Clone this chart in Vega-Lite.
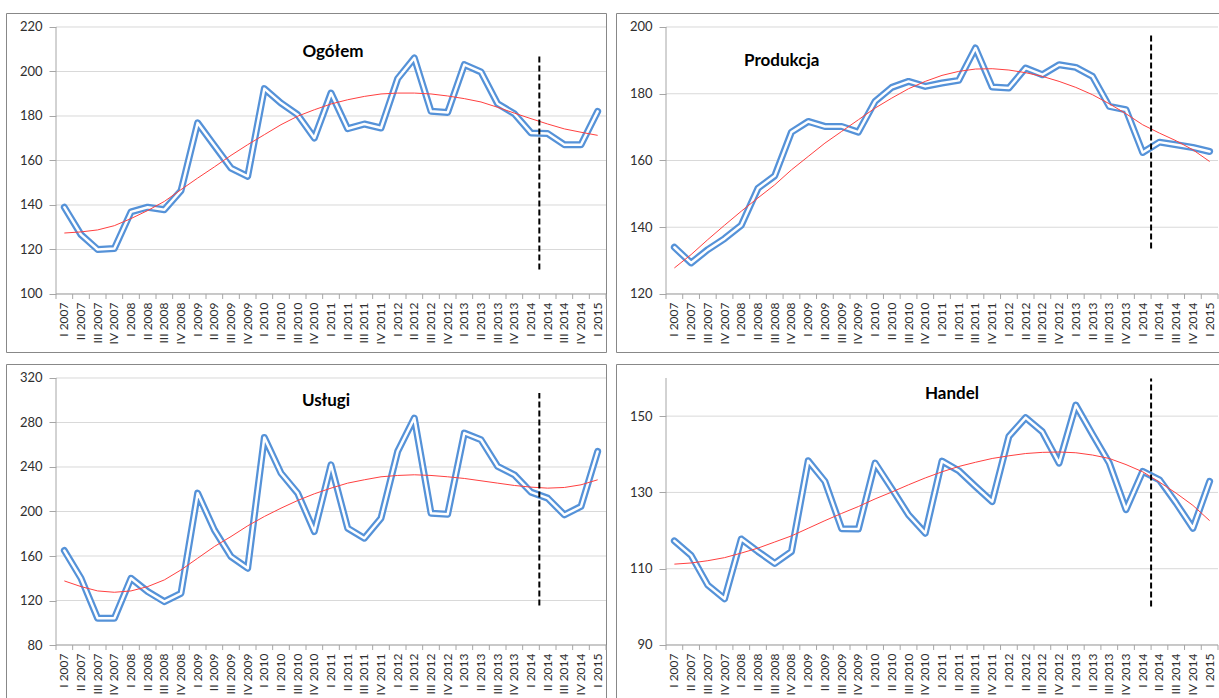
{
  "$schema": "https://vega.github.io/schema/vega-lite/v6.json",
  "padding": {"left": 5, "top": 12, "right": 0, "bottom": 0},
  "background": "white",
  "config": {
    "view": {"stroke": "#888888", "strokeWidth": 1},
    "font": "Lato",
    "axis": {"labelFont": "Lato", "labelColor": "#2e2e2e", "tickColor": "#a6a6a6", "domain": false, "grid": false}
  },
  "datasets": {
    "ogolem": [
      {"q": "I 2007", "v": 139, "t": 127.4}, {"q": "II 2007", "v": 126.7, "t": 127.9}, {"q": "III 2007", "v": 120, "t": 128.8}, {"q": "IV 2007", "v": 120.4, "t": 130.7},
      {"q": "I 2008", "v": 136.9, "t": 133.9}, {"q": "II 2008", "v": 139, "t": 137.5}, {"q": "III 2008", "v": 137.9, "t": 141.6}, {"q": "IV 2008", "v": 146.4, "t": 146.9},
      {"q": "I 2009", "v": 176.9, "t": 152.1}, {"q": "II 2009", "v": 166.7, "t": 157.1}, {"q": "III 2009", "v": 156.6, "t": 162.3}, {"q": "IV 2009", "v": 152.9, "t": 167.1},
      {"q": "I 2010", "v": 192.3, "t": 171.6}, {"q": "II 2010", "v": 185.8, "t": 176.1}, {"q": "III 2010", "v": 180.6, "t": 179.9}, {"q": "IV 2010", "v": 170.1, "t": 182.8},
      {"q": "I 2011", "v": 190.3, "t": 185.4}, {"q": "II 2011", "v": 174.3, "t": 187.3}, {"q": "III 2011", "v": 176.4, "t": 188.8}, {"q": "IV 2011", "v": 174.6, "t": 189.9},
      {"q": "I 2012", "v": 196.8, "t": 190.3}, {"q": "II 2012", "v": 206.1, "t": 190.3}, {"q": "III 2012", "v": 182.1, "t": 189.9}, {"q": "IV 2012", "v": 181.6, "t": 189.0},
      {"q": "I 2013", "v": 203.1, "t": 187.8}, {"q": "II 2013", "v": 199.8, "t": 186.3}, {"q": "III 2013", "v": 185.5, "t": 183.9}, {"q": "IV 2013", "v": 181, "t": 181.3},
      {"q": "I 2014", "v": 172.4, "t": 178.8}, {"q": "II 2014", "v": 172.1, "t": 176.4}, {"q": "III 2014", "v": 167.1, "t": 174.2}, {"q": "IV 2014", "v": 167.1, "t": 172.7},
      {"q": "I 2015", "v": 182.1, "t": 171.3}
    ],
    "produkcja": [
      {"q": "I 2007", "v": 134, "t": 127.8}, {"q": "II 2007", "v": 129.3, "t": 131.8}, {"q": "III 2007", "v": 133.3, "t": 136.3}, {"q": "IV 2007", "v": 136.6, "t": 140.6},
      {"q": "I 2008", "v": 140.6, "t": 144.8}, {"q": "II 2008", "v": 151.7, "t": 148.8}, {"q": "III 2008", "v": 155.4, "t": 152.7}, {"q": "IV 2008", "v": 168.5, "t": 157.2},
      {"q": "I 2009", "v": 171.7, "t": 161.2}, {"q": "II 2009", "v": 170.2, "t": 165.2}, {"q": "III 2009", "v": 170.2, "t": 168.7}, {"q": "IV 2009", "v": 168.5, "t": 172.2},
      {"q": "I 2010", "v": 177.7, "t": 175.7}, {"q": "II 2010", "v": 181.9, "t": 178.7}, {"q": "III 2010", "v": 183.7, "t": 181.5}, {"q": "IV 2010", "v": 182.2, "t": 183.7},
      {"q": "I 2011", "v": 183.2, "t": 185.5}, {"q": "II 2011", "v": 184, "t": 186.7}, {"q": "III 2011", "v": 193.7, "t": 187.4}, {"q": "IV 2011", "v": 182, "t": 187.5},
      {"q": "I 2012", "v": 181.7, "t": 187.1}, {"q": "II 2012", "v": 187.7, "t": 186.3}, {"q": "III 2012", "v": 185.7, "t": 185.2}, {"q": "IV 2012", "v": 188.7, "t": 183.7},
      {"q": "I 2013", "v": 187.9, "t": 181.9}, {"q": "II 2013", "v": 185.2, "t": 179.7}, {"q": "III 2013", "v": 176.2, "t": 177}, {"q": "IV 2013", "v": 175.2, "t": 174},
      {"q": "I 2014", "v": 162.4, "t": 170.7}, {"q": "II 2014", "v": 165.5, "t": 168.2}, {"q": "III 2014", "v": 164.7, "t": 165.9}, {"q": "IV 2014", "v": 163.9, "t": 163.2},
      {"q": "I 2015", "v": 162.7, "t": 159.7}
    ],
    "uslugi": [
      {"q": "I 2007", "v": 164.9, "t": 137.6}, {"q": "II 2007", "v": 140, "t": 132.5}, {"q": "III 2007", "v": 104, "t": 128.6}, {"q": "IV 2007", "v": 104, "t": 127.4},
      {"q": "I 2008", "v": 140, "t": 128.6}, {"q": "II 2008", "v": 128, "t": 132.5}, {"q": "III 2008", "v": 119, "t": 138.5}, {"q": "IV 2008", "v": 126.5, "t": 147.5},
      {"q": "I 2009", "v": 216.5, "t": 158}, {"q": "II 2009", "v": 183.5, "t": 168.5}, {"q": "III 2009", "v": 159.5, "t": 177.5}, {"q": "IV 2009", "v": 149, "t": 187.1},
      {"q": "I 2010", "v": 266.6, "t": 195.5}, {"q": "II 2010", "v": 234.5, "t": 203}, {"q": "III 2010", "v": 216.5, "t": 209.9}, {"q": "IV 2010", "v": 182, "t": 215.9},
      {"q": "I 2011", "v": 242, "t": 221}, {"q": "II 2011", "v": 185, "t": 225.5}, {"q": "III 2011", "v": 176, "t": 228.5}, {"q": "IV 2011", "v": 194, "t": 231.2},
      {"q": "I 2012", "v": 254, "t": 232.4}, {"q": "II 2012", "v": 284, "t": 233}, {"q": "III 2012", "v": 198.5, "t": 232.4}, {"q": "IV 2012", "v": 197.6, "t": 231.2},
      {"q": "I 2013", "v": 270.5, "t": 229.7}, {"q": "II 2013", "v": 264.5, "t": 227.6}, {"q": "III 2013", "v": 240.5, "t": 225.5}, {"q": "IV 2013", "v": 233, "t": 223.4},
      {"q": "I 2014", "v": 217.4, "t": 221.9}, {"q": "II 2014", "v": 212, "t": 221}, {"q": "III 2014", "v": 197, "t": 221.6}, {"q": "IV 2014", "v": 204.5, "t": 224},
      {"q": "I 2015", "v": 254, "t": 228.5}
    ],
    "handel": [
      {"q": "I 2007", "v": 117.3, "t": 111.2}, {"q": "II 2007", "v": 113.5, "t": 111.5}, {"q": "III 2007", "v": 105.7, "t": 112.1}, {"q": "IV 2007", "v": 102.1, "t": 112.9},
      {"q": "I 2008", "v": 117.8, "t": 114.1}, {"q": "II 2008", "v": 114.5, "t": 115.4}, {"q": "III 2008", "v": 111.4, "t": 117}, {"q": "IV 2008", "v": 114.5, "t": 118.6},
      {"q": "I 2009", "v": 138.3, "t": 120.6}, {"q": "II 2009", "v": 132.9, "t": 122.6}, {"q": "III 2009", "v": 120.5, "t": 124.5}, {"q": "IV 2009", "v": 120.4, "t": 126.3},
      {"q": "I 2010", "v": 137.7, "t": 128.3}, {"q": "II 2010", "v": 131, "t": 130.1}, {"q": "III 2010", "v": 124.1, "t": 132}, {"q": "IV 2010", "v": 119.3, "t": 133.8},
      {"q": "I 2011", "v": 138.2, "t": 135.4}, {"q": "II 2011", "v": 135.7, "t": 136.8}, {"q": "III 2011", "v": 131.6, "t": 137.9}, {"q": "IV 2011", "v": 127.6, "t": 138.9},
      {"q": "I 2012", "v": 144.7, "t": 139.6}, {"q": "II 2012", "v": 149.6, "t": 140.2}, {"q": "III 2012", "v": 145.9, "t": 140.5}, {"q": "IV 2012", "v": 137.7, "t": 140.6},
      {"q": "I 2013", "v": 152.9, "t": 140.4}, {"q": "II 2013", "v": 145.2, "t": 139.8}, {"q": "III 2013", "v": 137.7, "t": 138.9}, {"q": "IV 2013", "v": 125.5, "t": 137.3},
      {"q": "I 2014", "v": 135.5, "t": 135.4}, {"q": "II 2014", "v": 133.3, "t": 132.7}, {"q": "III 2014", "v": 127.2, "t": 129.8}, {"q": "IV 2014", "v": 120.6, "t": 126.6},
      {"q": "I 2015", "v": 132.9, "t": 122.6}
    ]
  },
  "spacing": 10,
  "vconcat": [
    {
      "spacing": 8,
      "hconcat": [
        {
          "width": 600, "height": 339,
          "layer": [
            {"data": {"values": [{"g": 100}, {"g": 120}, {"g": 140}, {"g": 160}, {"g": 180}, {"g": 200}, {"g": 220}]},
             "mark": {"type": "rule", "color": "#d9d9d9", "strokeWidth": 1},
             "encoding": {"x": {"datum": "I 2007", "type": "ordinal", "bandPosition": 0}, "x2": {"datum": "I 2015", "bandPosition": 1}, "y": {"field": "g", "type": "quantitative", "title": null}}},
            {"data": {"values": [{}]}, "mark": {"type": "rule", "color": "#a6a6a6"},
             "encoding": {"x": {"datum": "I 2007", "type": "ordinal", "bandPosition": 0}, "y": {"datum": 100, "type": "quantitative"}, "y2": {"datum": 220}}},
            {"data": {"values": [{}]}, "mark": {"type": "rule", "color": "#a6a6a6"},
             "encoding": {"x": {"datum": "I 2007", "type": "ordinal", "bandPosition": 0}, "x2": {"datum": "I 2015", "bandPosition": 1}, "y": {"datum": 100, "type": "quantitative"}}},
            {"data": {"name": "ogolem"}, "mark": {"type": "rule", "color": "#a6a6a6"},
             "encoding": {"x": {"field": "q", "type": "ordinal", "bandPosition": 0}, "y": {"datum": 100, "type": "quantitative"}, "y2": {"datum": 97.75}}},
            {"data": {"values": [{}]}, "mark": {"type": "rule", "color": "#a6a6a6"},
             "encoding": {"x": {"datum": "I 2015", "type": "ordinal", "bandPosition": 1}, "y": {"datum": 100, "type": "quantitative"}, "y2": {"datum": 97.75}}},
            {"data": {"name": "ogolem"},
             "mark": {"type": "line", "color": "#5592d8", "strokeWidth": 7, "strokeJoin": "round", "strokeCap": "round"},
             "encoding": {
               "x": {"field": "q", "type": "ordinal", "bandPosition": 0.5, "title": null,
                     "scale": {"type": "band", "domain": ["I 2007","II 2007","III 2007","IV 2007","I 2008","II 2008","III 2008","IV 2008","I 2009","II 2009","III 2009","IV 2009","I 2010","II 2010","III 2010","IV 2010","I 2011","II 2011","III 2011","IV 2011","I 2012","II 2012","III 2012","IV 2012","I 2013","II 2013","III 2013","IV 2013","I 2014","II 2014","III 2014","IV 2014","I 2015"], "paddingInner": 0, "paddingOuter": 0, "range": [50, 600]},
                     "axis": {"title": null, "orient": "bottom", "offset": -58, "ticks": false, "labelAngle": -90, "labelFontSize": 12, "labelPadding": 8, "labelOverlap": false}},
               "y": {"field": "v", "type": "quantitative", "title": null,
                     "scale": {"domain": [73.93, 226.29], "nice": false, "zero": false},
                     "axis": {"title": null, "offset": -50, "values": [100, 120, 140, 160, 180, 200, 220], "tickSize": 7, "labelPadding": 7, "labelFontSize": 13}}
             }},
            {"data": {"name": "ogolem"},
             "mark": {"type": "line", "color": "white", "strokeWidth": 2.5, "strokeJoin": "round", "strokeCap": "round"},
             "encoding": {"x": {"field": "q", "type": "ordinal", "bandPosition": 0.5}, "y": {"field": "v", "type": "quantitative"}}},
            {"data": {"name": "ogolem"},
             "mark": {"type": "line", "color": "#ff4040", "strokeWidth": 1},
             "encoding": {"x": {"field": "q", "type": "ordinal", "bandPosition": 0.5}, "y": {"field": "t", "type": "quantitative"}}},
            {"data": {"values": [{}]}, "mark": {"type": "rule", "color": "black", "strokeWidth": 2, "strokeDash": [6, 3]},
             "encoding": {"x": {"datum": "II 2014", "type": "ordinal", "bandPosition": 0}, "y": {"datum": 111, "type": "quantitative"}, "y2": {"datum": 207}}},
            {"data": {"values": [{"title": "Ogółem"}]},
             "mark": {"type": "text", "font": "Lato", "fontWeight": "bold", "fontSize": 17, "color": "black", "dx": 2, "align": "center", "baseline": "middle"},
             "encoding": {"x": {"datum": "I 2011", "type": "ordinal", "bandPosition": 0.5}, "y": {"datum": 208.8, "type": "quantitative"}, "text": {"field": "title"}}}
          ]
        },
        {
          "width": 603, "height": 339,
          "layer": [
            {"data": {"values": [{"g": 120}, {"g": 140}, {"g": 160}, {"g": 180}, {"g": 200}]},
             "mark": {"type": "rule", "color": "#d9d9d9", "strokeWidth": 1},
             "encoding": {"x": {"datum": "I 2007", "type": "ordinal", "bandPosition": 0}, "x2": {"datum": "I 2015", "bandPosition": 1}, "y": {"field": "g", "type": "quantitative", "title": null}}},
            {"data": {"values": [{}]}, "mark": {"type": "rule", "color": "#a6a6a6"},
             "encoding": {"x": {"datum": "I 2007", "type": "ordinal", "bandPosition": 0}, "y": {"datum": 120, "type": "quantitative"}, "y2": {"datum": 200}}},
            {"data": {"values": [{}]}, "mark": {"type": "rule", "color": "#a6a6a6"},
             "encoding": {"x": {"datum": "I 2007", "type": "ordinal", "bandPosition": 0}, "x2": {"datum": "I 2015", "bandPosition": 1}, "y": {"datum": 120, "type": "quantitative"}}},
            {"data": {"name": "produkcja"}, "mark": {"type": "rule", "color": "#a6a6a6"},
             "encoding": {"x": {"field": "q", "type": "ordinal", "bandPosition": 0}, "y": {"datum": 120, "type": "quantitative"}, "y2": {"datum": 118.5}}},
            {"data": {"values": [{}]}, "mark": {"type": "rule", "color": "#a6a6a6"},
             "encoding": {"x": {"datum": "I 2015", "type": "ordinal", "bandPosition": 1}, "y": {"datum": 120, "type": "quantitative"}, "y2": {"datum": 118.5}}},
            {"data": {"name": "produkcja"},
             "mark": {"type": "line", "color": "#5592d8", "strokeWidth": 7, "strokeJoin": "round", "strokeCap": "round"},
             "encoding": {
               "x": {"field": "q", "type": "ordinal", "bandPosition": 0.5, "title": null,
                     "scale": {"type": "band", "domain": ["I 2007","II 2007","III 2007","IV 2007","I 2008","II 2008","III 2008","IV 2008","I 2009","II 2009","III 2009","IV 2009","I 2010","II 2010","III 2010","IV 2010","I 2011","II 2011","III 2011","IV 2011","I 2012","II 2012","III 2012","IV 2012","I 2013","II 2013","III 2013","IV 2013","I 2014","II 2014","III 2014","IV 2014","I 2015"], "paddingInner": 0, "paddingOuter": 0, "range": [50, 602]},
                     "axis": {"title": null, "orient": "bottom", "offset": -58, "ticks": false, "labelAngle": -90, "labelFontSize": 12, "labelPadding": 8, "labelOverlap": false}},
               "y": {"field": "v", "type": "quantitative", "title": null,
                     "scale": {"domain": [102.62, 204.19], "nice": false, "zero": false},
                     "axis": {"title": null, "offset": -50, "values": [120, 140, 160, 180, 200], "tickSize": 7, "labelPadding": 7, "labelFontSize": 13}}
             }},
            {"data": {"name": "produkcja"},
             "mark": {"type": "line", "color": "white", "strokeWidth": 2.5, "strokeJoin": "round", "strokeCap": "round"},
             "encoding": {"x": {"field": "q", "type": "ordinal", "bandPosition": 0.5}, "y": {"field": "v", "type": "quantitative"}}},
            {"data": {"name": "produkcja"},
             "mark": {"type": "line", "color": "#ff4040", "strokeWidth": 1},
             "encoding": {"x": {"field": "q", "type": "ordinal", "bandPosition": 0.5}, "y": {"field": "t", "type": "quantitative"}}},
            {"data": {"values": [{}]}, "mark": {"type": "rule", "color": "black", "strokeWidth": 2, "strokeDash": [6, 3]},
             "encoding": {"x": {"datum": "II 2014", "type": "ordinal", "bandPosition": 0}, "y": {"datum": 133.6, "type": "quantitative"}, "y2": {"datum": 197.7}}},
            {"data": {"values": [{"title": "Produkcja"}]},
             "mark": {"type": "text", "font": "Lato", "fontWeight": "bold", "fontSize": 17, "color": "black", "dx": 7, "align": "center", "baseline": "middle"},
             "encoding": {"x": {"datum": "III 2008", "type": "ordinal", "bandPosition": 0.5}, "y": {"datum": 189.9, "type": "quantitative"}, "text": {"field": "title"}}}
          ]
        }
      ]
    },
    {
      "spacing": 8,
      "hconcat": [
        {
          "width": 600, "height": 339,
          "layer": [
            {"data": {"values": [{"g": 80}, {"g": 120}, {"g": 160}, {"g": 200}, {"g": 240}, {"g": 280}, {"g": 320}]},
             "mark": {"type": "rule", "color": "#d9d9d9", "strokeWidth": 1},
             "encoding": {"x": {"datum": "I 2007", "type": "ordinal", "bandPosition": 0}, "x2": {"datum": "I 2015", "bandPosition": 1}, "y": {"field": "g", "type": "quantitative", "title": null}}},
            {"data": {"values": [{}]}, "mark": {"type": "rule", "color": "#a6a6a6"},
             "encoding": {"x": {"datum": "I 2007", "type": "ordinal", "bandPosition": 0}, "y": {"datum": 80, "type": "quantitative"}, "y2": {"datum": 320}}},
            {"data": {"values": [{}]}, "mark": {"type": "rule", "color": "#a6a6a6"},
             "encoding": {"x": {"datum": "I 2007", "type": "ordinal", "bandPosition": 0}, "x2": {"datum": "I 2015", "bandPosition": 1}, "y": {"datum": 80, "type": "quantitative"}}},
            {"data": {"name": "uslugi"}, "mark": {"type": "rule", "color": "#a6a6a6"},
             "encoding": {"x": {"field": "q", "type": "ordinal", "bandPosition": 0}, "y": {"datum": 80, "type": "quantitative"}, "y2": {"datum": 75.5}}},
            {"data": {"values": [{}]}, "mark": {"type": "rule", "color": "#a6a6a6"},
             "encoding": {"x": {"datum": "I 2015", "type": "ordinal", "bandPosition": 1}, "y": {"datum": 80, "type": "quantitative"}, "y2": {"datum": 75.5}}},
            {"data": {"name": "uslugi"},
             "mark": {"type": "line", "color": "#5592d8", "strokeWidth": 7, "strokeJoin": "round", "strokeCap": "round"},
             "encoding": {
               "x": {"field": "q", "type": "ordinal", "bandPosition": 0.5, "title": null,
                     "scale": {"type": "band", "domain": ["I 2007","II 2007","III 2007","IV 2007","I 2008","II 2008","III 2008","IV 2008","I 2009","II 2009","III 2009","IV 2009","I 2010","II 2010","III 2010","IV 2010","I 2011","II 2011","III 2011","IV 2011","I 2012","II 2012","III 2012","IV 2012","I 2013","II 2013","III 2013","IV 2013","I 2014","II 2014","III 2014","IV 2014","I 2015"], "paddingInner": 0, "paddingOuter": 0, "range": [50, 600]},
                     "axis": {"title": null, "orient": "bottom", "offset": -58, "ticks": false, "labelAngle": -90, "labelFontSize": 12, "labelPadding": 8, "labelOverlap": false}},
               "y": {"field": "v", "type": "quantitative", "title": null,
                     "scale": {"domain": [27.87, 332.58], "nice": false, "zero": false},
                     "axis": {"title": null, "offset": -50, "values": [80, 120, 160, 200, 240, 280, 320], "tickSize": 7, "labelPadding": 7, "labelFontSize": 13}}
             }},
            {"data": {"name": "uslugi"},
             "mark": {"type": "line", "color": "white", "strokeWidth": 2.5, "strokeJoin": "round", "strokeCap": "round"},
             "encoding": {"x": {"field": "q", "type": "ordinal", "bandPosition": 0.5}, "y": {"field": "v", "type": "quantitative"}}},
            {"data": {"name": "uslugi"},
             "mark": {"type": "line", "color": "#ff4040", "strokeWidth": 1},
             "encoding": {"x": {"field": "q", "type": "ordinal", "bandPosition": 0.5}, "y": {"field": "t", "type": "quantitative"}}},
            {"data": {"values": [{}]}, "mark": {"type": "rule", "color": "black", "strokeWidth": 2, "strokeDash": [6, 3]},
             "encoding": {"x": {"datum": "II 2014", "type": "ordinal", "bandPosition": 0}, "y": {"datum": 115.4, "type": "quantitative"}, "y2": {"datum": 306.5}}},
            {"data": {"values": [{"title": "Usługi"}]},
             "mark": {"type": "text", "font": "Lato", "fontWeight": "bold", "fontSize": 17, "color": "black", "dx": -5, "align": "center", "baseline": "middle"},
             "encoding": {"x": {"datum": "I 2011", "type": "ordinal", "bandPosition": 0.5}, "y": {"datum": 299, "type": "quantitative"}, "text": {"field": "title"}}}
          ]
        },
        {
          "width": 603, "height": 339,
          "layer": [
            {"data": {"values": [{"g": 90}, {"g": 110}, {"g": 130}, {"g": 150}]},
             "mark": {"type": "rule", "color": "#d9d9d9", "strokeWidth": 1},
             "encoding": {"x": {"datum": "I 2007", "type": "ordinal", "bandPosition": 0}, "x2": {"datum": "I 2015", "bandPosition": 1}, "y": {"field": "g", "type": "quantitative", "title": null}}},
            {"data": {"values": [{}]}, "mark": {"type": "rule", "color": "#a6a6a6"},
             "encoding": {"x": {"datum": "I 2007", "type": "ordinal", "bandPosition": 0}, "y": {"datum": 90, "type": "quantitative"}, "y2": {"datum": 160}}},
            {"data": {"values": [{}]}, "mark": {"type": "rule", "color": "#a6a6a6"},
             "encoding": {"x": {"datum": "I 2007", "type": "ordinal", "bandPosition": 0}, "x2": {"datum": "I 2015", "bandPosition": 1}, "y": {"datum": 90, "type": "quantitative"}}},
            {"data": {"name": "handel"}, "mark": {"type": "rule", "color": "#a6a6a6"},
             "encoding": {"x": {"field": "q", "type": "ordinal", "bandPosition": 0}, "y": {"datum": 90, "type": "quantitative"}, "y2": {"datum": 88.69}}},
            {"data": {"values": [{}]}, "mark": {"type": "rule", "color": "#a6a6a6"},
             "encoding": {"x": {"datum": "I 2015", "type": "ordinal", "bandPosition": 1}, "y": {"datum": 90, "type": "quantitative"}, "y2": {"datum": 88.69}}},
            {"data": {"name": "handel"},
             "mark": {"type": "line", "color": "#5592d8", "strokeWidth": 7, "strokeJoin": "round", "strokeCap": "round"},
             "encoding": {
               "x": {"field": "q", "type": "ordinal", "bandPosition": 0.5, "title": null,
                     "scale": {"type": "band", "domain": ["I 2007","II 2007","III 2007","IV 2007","I 2008","II 2008","III 2008","IV 2008","I 2009","II 2009","III 2009","IV 2009","I 2010","II 2010","III 2010","IV 2010","I 2011","II 2011","III 2011","IV 2011","I 2012","II 2012","III 2012","IV 2012","I 2013","II 2013","III 2013","IV 2013","I 2014","II 2014","III 2014","IV 2014","I 2015"], "paddingInner": 0, "paddingOuter": 0, "range": [50, 602]},
                     "axis": {"title": null, "orient": "bottom", "offset": -58, "ticks": false, "labelAngle": -90, "labelFontSize": 12, "labelPadding": 8, "labelOverlap": false}},
               "y": {"field": "v", "type": "quantitative", "title": null,
                     "scale": {"domain": [74.79, 163.67], "nice": false, "zero": false},
                     "axis": {"title": null, "offset": -50, "values": [90, 110, 130, 150], "tickSize": 7, "labelPadding": 7, "labelFontSize": 13}}
             }},
            {"data": {"name": "handel"},
             "mark": {"type": "line", "color": "white", "strokeWidth": 2.5, "strokeJoin": "round", "strokeCap": "round"},
             "encoding": {"x": {"field": "q", "type": "ordinal", "bandPosition": 0.5}, "y": {"field": "v", "type": "quantitative"}}},
            {"data": {"name": "handel"},
             "mark": {"type": "line", "color": "#ff4040", "strokeWidth": 1},
             "encoding": {"x": {"field": "q", "type": "ordinal", "bandPosition": 0.5}, "y": {"field": "t", "type": "quantitative"}}},
            {"data": {"values": [{}]}, "mark": {"type": "rule", "color": "black", "strokeWidth": 2, "strokeDash": [6, 3]},
             "encoding": {"x": {"datum": "II 2014", "type": "ordinal", "bandPosition": 0}, "y": {"datum": 100.1, "type": "quantitative"}, "y2": {"datum": 159.9}}},
            {"data": {"values": [{"title": "Handel"}]},
             "mark": {"type": "text", "font": "Lato", "fontWeight": "bold", "fontSize": 17, "color": "black", "dx": 10, "align": "center", "baseline": "middle"},
             "encoding": {"x": {"datum": "I 2011", "type": "ordinal", "bandPosition": 0.5}, "y": {"datum": 155.9, "type": "quantitative"}, "text": {"field": "title"}}}
          ]
        }
      ]
    }
  ]
}
